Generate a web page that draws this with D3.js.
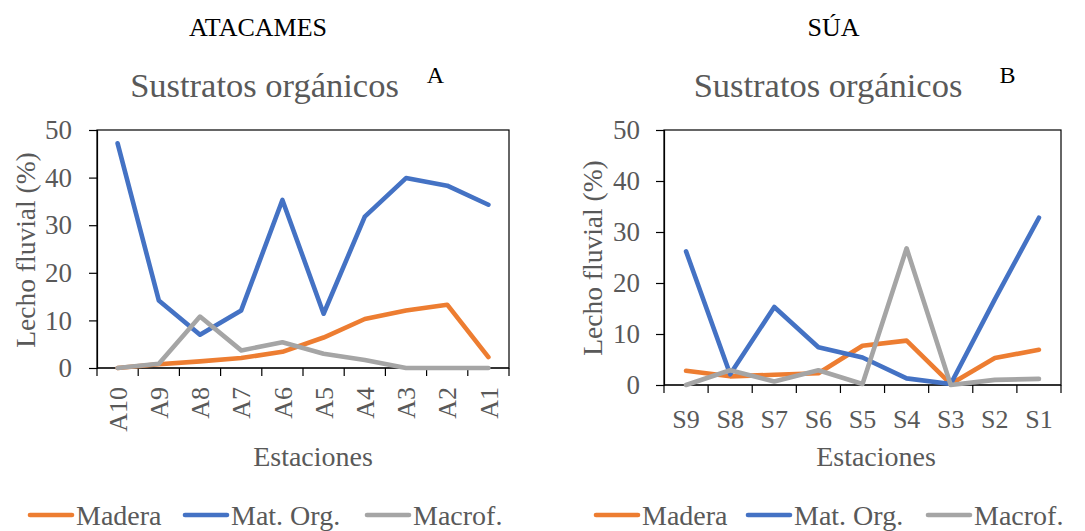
<!DOCTYPE html>
<html lang="es">
<head>
<meta charset="utf-8">
<style>
  html, body { margin: 0; padding: 0; background: #fff; }
  svg { display: block; }
  svg text { font-family: "Liberation Serif", Tinos, "DejaVu Serif", "Noto Serif", serif; }
</style>
</head>
<body>
<script src="https://d3js.org/d3.v7.min.js"></script>
<script>
// datos
var estacionesA = ["A10", "A9", "A8", "A7", "A6", "A5", "A4", "A3", "A2", "A1"];
var maderaA = [0, 0.8, 1.4, 2.1, 3.4, 6.4, 10.3, 12.1, 13.3, 2.3];
var matOrgA = [47.2, 14.2, 7.0, 12.1, 35.3, 11.4, 31.8, 39.9, 38.3, 34.3];
var macrofA = [0, 0.9, 10.8, 3.7, 5.4, 3.0, 1.7, 0, 0, 0];

var estacionesS = ["S9", "S8", "S7", "S6", "S5", "S4", "S3", "S2", "S1"];
var maderaS = [2.8, 1.7, 2.0, 2.3, 7.7, 8.7, 0.2, 5.3, 6.9];
var matOrgS = [26.2, 2.1, 15.3, 7.4, 5.4, 1.3, 0.2, 16.8, 32.8];
var macrofS = [0, 2.9, 0.7, 2.9, 0.2, 26.8, 0, 1.0, 1.2];

var series = ["Madera", "Mat. Org.", "Macrof."];
var yTicks = [0, 10, 20, 30, 40, 50];

var color = d3.scaleOrdinal()
    .domain(series)
    .range(["#ED7D31", "#4472C4", "#A5A5A5"]);

var textGray = "#595959";

var svg = d3.select("body").append("svg")
    .attr("width", 1085)
    .attr("height", 531);

function drawChart(opt) {
    var g = svg.append("g");

    var x = d3.scaleBand()
        .domain(opt.cats)
        .range([opt.left, opt.right]);

    var y = d3.scaleLinear()
        .domain([0, 50])
        .range([opt.bottom, opt.top]);

    // caja del area de trazado
    g.append("rect")
        .attr("x", opt.left)
        .attr("y", opt.top)
        .attr("width", opt.right - opt.left)
        .attr("height", opt.bottom - opt.top)
        .attr("fill", "none")
        .attr("stroke", "#000")
        .attr("stroke-width", 1.2);

    // eje y
    var yAxis = g.append("g")
        .attr("transform", "translate(" + opt.left + ",0)")
        .call(d3.axisLeft(y).tickValues(yTicks).tickSize(8).tickPadding(opt.tickPad));
    yAxis.attr("font-family", null);
    yAxis.select(".domain").attr("stroke", "#000").attr("stroke-width", 1.2);
    yAxis.selectAll(".tick line").attr("stroke", "#000").attr("stroke-width", 1.2);
    yAxis.selectAll("text")
        .attr("fill", textGray)
        .attr("font-size", "27px");

    // eje x: marcas entre categorias
    var bounds = opt.cats.map(function(c) { return x(c); }).concat([opt.right]);
    g.selectAll("line.xtick")
        .data(bounds)
        .enter().append("line")
        .attr("class", "xtick")
        .attr("x1", function(d) { return d; })
        .attr("x2", function(d) { return d; })
        .attr("y1", opt.bottom)
        .attr("y2", opt.bottom + 8)
        .attr("stroke", "#000")
        .attr("stroke-width", 1.2);
    g.append("line")
        .attr("x1", opt.left).attr("x2", opt.right)
        .attr("y1", opt.bottom).attr("y2", opt.bottom)
        .attr("stroke", "#000")
        .attr("stroke-width", 1.2);

    var lbl = g.selectAll("text.xlab")
        .data(opt.cats)
        .enter().append("text")
        .attr("class", "xlab")
        .text(function(d) { return d; })
        .attr("fill", textGray)
        .attr("font-size", "26px");
    if (opt.rotate) {
        lbl.attr("text-anchor", "end")
            .attr("dy", "0.35em")
            .attr("transform", function(d) {
                return "translate(" + (x(d) + x.bandwidth() / 2) + "," + opt.labelY + ") rotate(-90)";
            });
    } else {
        lbl.attr("text-anchor", "middle")
            .attr("x", function(d) { return x(d) + x.bandwidth() / 2; })
            .attr("y", opt.labelY);
    }

    // titulos de ejes
    g.append("text")
        .text("Estaciones")
        .attr("x", opt.xTitleX)
        .attr("y", 466)
        .attr("text-anchor", "middle")
        .attr("fill", textGray)
        .attr("font-size", "28px");

    g.append("text")
        .text("Lecho fluvial (%)")
        .attr("transform", "translate(" + opt.yTitleX + "," + opt.yTitleY + ") rotate(-90)")
        .attr("dy", "0.35em")
        .attr("text-anchor", "middle")
        .attr("fill", textGray)
        .attr("font-size", "27.5px");

    // titulos
    g.append("text")
        .text(opt.place)
        .attr("x", opt.placeX)
        .attr("y", 35.5)
        .attr("text-anchor", "middle")
        .attr("fill", "#000")
        .attr("font-size", "26px");

    g.append("text")
        .text("Sustratos orgánicos")
        .attr("x", opt.titleX)
        .attr("y", 97)
        .attr("text-anchor", "middle")
        .attr("fill", textGray)
        .attr("font-size", "34.5px");

    g.append("text")
        .text(opt.letter)
        .attr("x", opt.letterX)
        .attr("y", 82.5)
        .attr("text-anchor", "middle")
        .attr("fill", "#000")
        .attr("font-size", "24px");

    // lineas
    var line = d3.line()
        .x(function(d, i) { return x(opt.cats[i]) + x.bandwidth() / 2; })
        .y(function(d) { return y(d); });

    g.selectAll("path.serie")
        .data(opt.values)
        .enter().append("path")
        .attr("class", "serie")
        .attr("d", function(d) { return line(d); })
        .attr("fill", "none")
        .attr("stroke", function(d, i) { return color(series[i]); })
        .attr("stroke-width", 4.6)
        .attr("stroke-linejoin", "round")
        .attr("stroke-linecap", "round");

    // leyenda
    var leg = g.selectAll("g.leg")
        .data(series)
        .enter().append("g")
        .attr("class", "leg")
        .attr("transform", function(d, i) { return "translate(" + opt.legendX[i] + ",515)"; });
    leg.append("line")
        .attr("x1", 0).attr("x2", 42)
        .attr("y1", 0).attr("y2", 0)
        .attr("stroke", function(d) { return color(d); })
        .attr("stroke-width", 4.6)
        .attr("stroke-linecap", "round");
    leg.append("text")
        .text(function(d) { return d; })
        .attr("x", 46)
        .attr("y", 9.5)
        .attr("fill", textGray)
        .attr("font-size", "28px");
}

drawChart({
    cats: estacionesA,
    values: [maderaA, matOrgA, macrofA],
    left: 97, right: 509, top: 130, bottom: 368, tickPad: 17,
    rotate: true, labelY: 387, xTitleX: 313,
    yTitleX: 25, yTitleY: 250,
    place: "ATACAMES", placeX: 258,
    titleX: 264.5, letter: "A", letterX: 435.5,
    legendX: [30, 185, 367]
});

drawChart({
    cats: estacionesS,
    values: [maderaS, matOrgS, macrofS],
    left: 664, right: 1061, top: 130, bottom: 385, tickPad: 16,
    rotate: false, labelY: 428, xTitleX: 876,
    yTitleX: 592, yTitleY: 258,
    place: "SÚA", placeX: 833.5,
    titleX: 828, letter: "B", letterX: 1007.5,
    legendX: [596, 748, 928]
});
</script>
</body>
</html>
